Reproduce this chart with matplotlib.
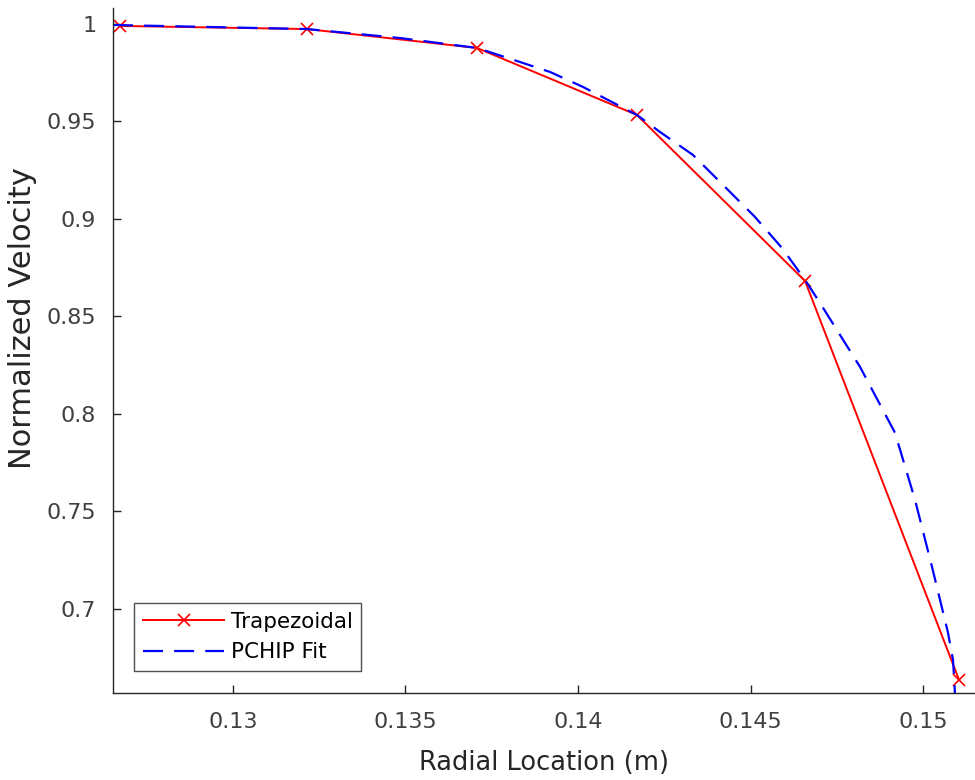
import matplotlib.pyplot as plt

# Trapezoidal estimates
r_trap = [0.126725, 0.132145, 0.137072, 0.141710, 0.146580, 0.151043]
v_trap = [0.9990, 0.9974, 0.9877, 0.9533, 0.8682, 0.6636]

# PCHIP fit samples
r_fit = [0.126522, 0.132145, 0.134841, 0.137072, 0.138319, 0.139188, 0.140145,
         0.141710, 0.142377, 0.143333, 0.144261, 0.145130, 0.145913, 0.146580,
         0.147014, 0.148174, 0.149188, 0.149768, 0.150261, 0.150725, 0.150870,
         0.150928]
v_fit = [0.9995, 0.9974, 0.9928, 0.9877, 0.9805, 0.9754, 0.9677,
         0.9533, 0.9446, 0.9328, 0.9164, 0.9010, 0.8851, 0.8687,
         0.8569, 0.8241, 0.7903, 0.7559, 0.7215, 0.6877, 0.6738,
         0.6560]

x_ticks = [0.13, 0.135, 0.14, 0.145, 0.15]
x_tick_labels = ["0.13", "0.135", "0.14", "0.145", "0.15"]
y_ticks = [0.7, 0.75, 0.8, 0.85, 0.9, 0.95, 1.0]
y_tick_labels = ["0.7", "0.75", "0.8", "0.85", "0.9", "0.95", "1"]

plt.rcParams['font.family'] = ['DejaVu Sans']

fig = plt.figure(figsize=(9.75, 7.8), dpi=100)
ax = fig.add_axes([113 / 975, 87 / 780, 862 / 975, 685 / 780])

ax.plot(r_trap, v_trap, '-x', color='#ff0000', lw=1.4, ms=9, mew=1.2,
        label='Trapezoidal')
ax.plot(r_fit, v_fit, '--', color='#0000ff', lw=1.6, dashes=(9, 5),
        label='PCHIP Fit')

ax.set_xlim(0.126522, 0.151507)
ax.set_ylim(0.6568, 1.0082)
ax.set_xticks(x_ticks)
ax.set_xticklabels(x_tick_labels)
ax.set_yticks(y_ticks)
ax.set_yticklabels(y_tick_labels)

for side in ['top', 'right']:
    ax.spines[side].set_visible(False)
for side in ['left', 'bottom']:
    ax.spines[side].set_color('#262626')
    ax.spines[side].set_linewidth(1.0)

ax.tick_params(direction='in', length=6, width=1.0, colors='#262626',
               labelcolor='#404040', labelsize=16)
ax.tick_params(axis='x', pad=14)
ax.tick_params(axis='y', pad=12)

ax.set_xlabel('Radial Location (m)', fontsize=18.5, color='#262626', labelpad=13)
ax.set_ylabel('Normalized Velocity', fontsize=22, color='#262626')
ax.yaxis.set_label_coords(-0.088, 0.547)

leg = ax.legend(loc='lower left', bbox_to_anchor=(0.0244, 0.032),
                borderaxespad=0, fontsize=15.5, fancybox=False,
                handlelength=3.8, handletextpad=0.3, borderpad=0.4,
                labelspacing=0.5)
leg.get_frame().set_edgecolor('#262626')
leg.get_frame().set_linewidth(1.0)

fig.savefig('out.png', dpi=100)
